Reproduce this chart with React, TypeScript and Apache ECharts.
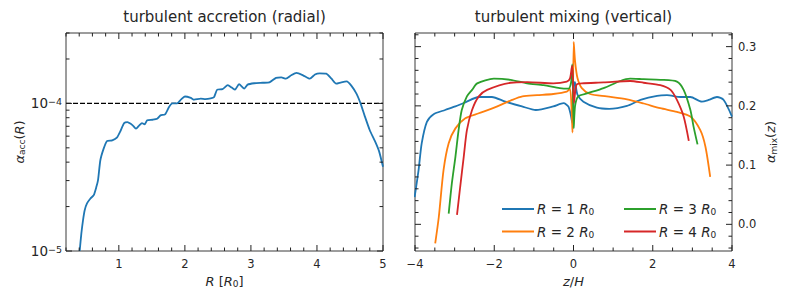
import React, { useEffect, useRef } from 'react';
import * as echarts from 'echarts';

// ---------- data: left panel (turbulent accretion, radial) ----------
const accR = [0.407, 0.433, 0.458, 0.483, 0.518, 0.57, 0.62, 0.66, 0.685, 0.72, 0.77, 0.82, 0.9, 0.97, 1.03, 1.08, 1.13, 1.18, 1.21, 1.26, 1.31, 1.35, 1.39, 1.43, 1.51, 1.58, 1.63, 1.7, 1.76, 1.81, 1.88, 1.94, 2.0, 2.09, 2.14, 2.24, 2.31, 2.39, 2.44, 2.49, 2.57, 2.65, 2.71, 2.76, 2.82, 2.9, 2.95, 3.05, 3.18, 3.28, 3.38, 3.46, 3.53, 3.61, 3.69, 3.79, 3.89, 3.97, 4.04, 4.14, 4.22, 4.29, 4.37, 4.45, 4.52, 4.6, 4.66, 4.72, 4.8, 4.88, 4.94, 5.0];
const accAlpha = [1.0e-5, 1.32e-5, 1.62e-5, 1.89e-5, 2.1e-5, 2.27e-5, 2.39e-5, 2.72e-5, 3.02e-5, 4.12e-5, 4.94e-5, 5.56e-5, 5.62e-5, 5.86e-5, 6.58e-5, 7.36e-5, 7.48e-5, 7.29e-5, 7.1e-5, 6.74e-5, 7.1e-5, 7.36e-5, 7.2e-5, 7.68e-5, 7.75e-5, 7.87e-5, 8.3e-5, 8.43e-5, 9.44e-5, 1.0e-4, 1.0e-4, 1.06e-4, 1.114e-4, 1.09e-4, 1.06e-4, 1.076e-4, 1.07e-4, 1.08e-4, 1.1e-4, 1.24e-4, 1.25e-4, 1.33e-4, 1.28e-4, 1.24e-4, 1.35e-4, 1.26e-4, 1.34e-4, 1.37e-4, 1.38e-4, 1.39e-4, 1.49e-4, 1.5e-4, 1.47e-4, 1.55e-4, 1.61e-4, 1.55e-4, 1.47e-4, 1.57e-4, 1.6e-4, 1.59e-4, 1.47e-4, 1.36e-4, 1.39e-4, 1.41e-4, 1.32e-4, 1.16e-4, 1.0e-4, 8.3e-5, 6.58e-5, 5.53e-5, 4.75e-5, 3.72e-5];
const accReference = 1e-4;

// ---------- data: right panel (turbulent mixing, vertical) ----------
const mixNames = ['R = 1 R0', 'R = 2 R0', 'R = 3 R0', 'R = 4 R0'];
const mixColors = ['#1f77b4', '#ff7f0e', '#2ca02c', '#d62728'];
const z1 = [-4.01, -3.91, -3.83, -3.7, -3.53, -3.24, -2.98, -2.73, -2.39, -2.06, -1.72, -1.3, -0.95, -0.51, -0.25, -0.13, -0.07, -0.035, -0.015, 0.015, 0.035, 0.1, 0.25, 0.59, 0.9, 1.35, 1.69, 2.11, 2.36, 2.7, 2.95, 3.24, 3.41, 3.62, 3.79, 4.0];
const a1 = [0.046, 0.0915, 0.137, 0.173, 0.186, 0.193, 0.199, 0.206, 0.215, 0.215, 0.207, 0.199, 0.193, 0.199, 0.2045, 0.199, 0.185, 0.173, 0.17, 0.238, 0.24, 0.219, 0.207, 0.197, 0.195, 0.2, 0.21, 0.217, 0.218, 0.215, 0.215, 0.207, 0.21, 0.215, 0.21, 0.182];
const z2 = [-3.49, -3.4, -3.28, -3.15, -2.98, -2.73, -2.39, -1.97, -1.55, -1.29, -0.92, -0.51, -0.17, -0.09, -0.045, -0.025, 0.005, 0.04, 0.1, 0.21, 0.42, 0.84, 1.35, 1.77, 2.19, 2.61, 2.95, 3.2, 3.33, 3.45];
const a2 = [-0.032, 0.012, 0.0915, 0.137, 0.162, 0.179, 0.1875, 0.198, 0.21, 0.216, 0.218, 0.22, 0.224, 0.229, 0.19, 0.155, 0.308, 0.275, 0.247, 0.23, 0.22, 0.216, 0.211, 0.204, 0.196, 0.19, 0.182, 0.159, 0.131, 0.08];
const z3 = [-3.15, -3.07, -2.98, -2.9, -2.82, -2.69, -2.56, -2.43, -2.01, -1.59, -1.17, -0.75, -0.35, -0.13, -0.06, -0.03, 0.005, 0.04, 0.12, 0.34, 0.76, 1.18, 1.43, 1.77, 2.19, 2.61, 2.78, 2.95, 3.03, 3.13];
const a3 = [0.018, 0.069, 0.114, 0.159, 0.193, 0.216, 0.227, 0.238, 0.246, 0.244, 0.238, 0.235, 0.23, 0.229, 0.24, 0.27, 0.162, 0.2, 0.216, 0.221, 0.23, 0.242, 0.246, 0.245, 0.244, 0.241, 0.227, 0.193, 0.165, 0.135];
const z4 = [-2.94, -2.86, -2.77, -2.69, -2.56, -2.39, -2.18, -1.59, -1.17, -0.51, -0.17, -0.09, -0.045, -0.03, 0.01, 0.04, 0.08, 0.21, 0.76, 1.43, 1.77, 2.19, 2.45, 2.61, 2.78, 2.91];
const a4 = [0.016, 0.063, 0.114, 0.159, 0.193, 0.216, 0.227, 0.239, 0.24, 0.238, 0.241, 0.246, 0.264, 0.268, 0.205, 0.222, 0.236, 0.238, 0.2395, 0.242, 0.239, 0.235, 0.227, 0.21, 0.182, 0.141];
const mixZ = [z1, z2, z3, z4];
const mixA = [a1, a2, a3, a4];

// ---------- ticks ----------
const leftXMajor = [1, 2, 3, 4, 5];
const leftXMinor = [0.2, 0.4, 0.6, 0.8, 1.2, 1.4, 1.6, 1.8, 2.2, 2.4, 2.6, 2.8, 3.2, 3.4, 3.6, 3.8, 4.2, 4.4, 4.6, 4.8];
const leftYMajor = [1e-5, 1e-4];
const leftYMinor = [2e-5, 3e-5, 4e-5, 5e-5, 6e-5, 7e-5, 8e-5, 9e-5, 2e-4, 3e-4];
const rightXMajor = [-4, -2, 0, 2, 4];
const rightXMinor = [-3.5, -3, -2.5, -1.5, -1, -0.5, 0.5, 1, 1.5, 2.5, 3, 3.5];
const rightYMajor = [0, 0.1, 0.2, 0.3];
const rightYMinor = [-0.04, -0.02, 0.02, 0.04, 0.06, 0.08, 0.12, 0.14, 0.16, 0.18, 0.22, 0.24, 0.26, 0.28, 0.32];

const LX = [0.2, 5];
const LY = [1e-5, 3e-4];
const RX = [-4, 4];
const RY = [-0.045, 0.323];

const FONT = '"DejaVu Sans", sans-serif';
const TXT = '#262626';
const AX = '#3a3a3a';
const TICK = '#222';
const MAJOR = 6;
const MINOR = 3.5;

const rich = {
  i: { fontStyle: 'italic', fontFamily: FONT, fontSize: 13, color: TXT },
  li: { fontStyle: 'italic', fontFamily: FONT, fontSize: 13.5, color: TXT },
  sub: { fontFamily: FONT, fontSize: 9, color: TXT, verticalAlign: 'bottom', padding: [6, 0, 0, 0] },
  sup: { fontFamily: FONT, fontSize: 9.5, color: TXT, verticalAlign: 'top' },
  d: { fontFamily: FONT, fontSize: 13.5, color: TXT },
};

const minus = (s: string) => s.replace('-', '\u2212');

// custom series drawing inward tick marks on two opposite sides of a grid
function xTicks(grid: number, vals: number[], yr: number[], len: number) {
  return {
    type: 'custom',
    xAxisIndex: grid,
    yAxisIndex: grid,
    silent: true,
    clip: false,
    z: 5,
    data: vals.map((v) => [v, yr[0]]),
    renderItem: (_p: any, api: any) => {
      const v = api.value(0);
      const b = api.coord([v, yr[0]]);
      const t = api.coord([v, yr[1]]);
      const st = { stroke: TICK, lineWidth: 1 };
      return {
        type: 'group',
        children: [
          { type: 'line', shape: { x1: b[0], y1: b[1], x2: b[0], y2: b[1] - len }, style: st },
          { type: 'line', shape: { x1: t[0], y1: t[1], x2: t[0], y2: t[1] + len }, style: st },
        ],
      };
    },
  };
}
function yTicks(grid: number, vals: number[], xr: number[], len: number) {
  return {
    type: 'custom',
    xAxisIndex: grid,
    yAxisIndex: grid,
    silent: true,
    clip: false,
    z: 5,
    data: vals.map((v) => [xr[0], v]),
    renderItem: (_p: any, api: any) => {
      const v = api.value(1);
      const l = api.coord([xr[0], v]);
      const r = api.coord([xr[1], v]);
      const st = { stroke: TICK, lineWidth: 1 };
      return {
        type: 'group',
        children: [
          { type: 'line', shape: { x1: l[0], y1: l[1], x2: l[0] + len, y2: l[1] }, style: st },
          { type: 'line', shape: { x1: r[0], y1: r[1], x2: r[0] - len, y2: r[1] }, style: st },
        ],
      };
    },
  };
}

export default function App() {
  const ref = useRef<HTMLDivElement>(null);
  useEffect(() => {
    if (!ref.current) return;
    const chart = echarts.init(ref.current, undefined, { renderer: 'svg' });
    const gridStyle = { show: true, borderColor: AX, borderWidth: 1, backgroundColor: 'transparent' };
    const gridL = { ...gridStyle, left: 66, top: 33, width: 317, height: 218 };
    const gridR = { ...gridStyle, left: 415, top: 33, width: 317, height: 218 };
    const nameStyle = { fontFamily: FONT, fontSize: 13, color: TXT, rich };
    const labelStyle = { fontFamily: FONT, fontSize: 11.5, color: TXT };

    const xAxis: any[] = [
      {
        gridIndex: 0,
        type: 'value',
        position: 'bottom',
        min: LX[0],
        max: LX[1],
        axisLine: { show: false },
        axisTick: { show: false },
        splitLine: { show: false },
        axisLabel: { show: true, customValues: leftXMajor, margin: 7, ...labelStyle },
        name: '{i|R} [{i|R}{sub|0}]',
        nameLocation: 'middle',
        nameGap: 21,
        nameTextStyle: nameStyle,
      },
      {
        gridIndex: 1,
        type: 'value',
        position: 'bottom',
        min: RX[0],
        max: RX[1],
        axisLine: { show: false },
        axisTick: { show: false },
        splitLine: { show: false },
        axisLabel: { show: true, customValues: rightXMajor, margin: 7, ...labelStyle, formatter: (v: number) => minus(String(v)) },
        name: '{i|z}/{i|H}',
        nameLocation: 'middle',
        nameGap: 21,
        nameTextStyle: nameStyle,
      },
    ];

    const yAxis: any[] = [
      {
        gridIndex: 0,
        type: 'log',
        logBase: 10,
        position: 'left',
        min: LY[0],
        max: LY[1],
        axisLine: { show: false },
        axisTick: { show: false },
        splitLine: { show: false },
        axisLabel: {
          show: true,
          margin: 4,
          ...labelStyle,
          rich: { d: rich.d, sup: rich.sup },
          formatter: (v: number) => {
            const e = Math.round(Math.log10(v));
            if (Math.abs(Math.log10(v) - e) > 1e-6) return '';
            return `{d|10}{sup|\u2212${-e}}`;
          },
        },
        name: '{i|\u03b1}{sub|acc}({i|R})',
        nameLocation: 'middle',
        nameRotate: 90,
        nameGap: 36,
        nameTextStyle: nameStyle,
      },
      {
        gridIndex: 1,
        type: 'value',
        position: 'right',
        min: RY[0],
        max: RY[1],
        axisLine: { show: false },
        axisTick: { show: false },
        splitLine: { show: false },
        axisLabel: { show: true, customValues: rightYMajor, margin: 6, ...labelStyle, formatter: (v: number) => v.toFixed(1) },
        name: '{i|\u03b1}{sub|mix}({i|z})',
        nameLocation: 'middle',
        nameRotate: 90,
        nameGap: 31,
        nameTextStyle: nameStyle,
      },
    ];

    const series: any[] = [
      xTicks(0, leftXMajor, LY, MAJOR),
      xTicks(0, leftXMinor, LY, MINOR),
      yTicks(0, leftYMajor, LX, MAJOR),
      yTicks(0, leftYMinor, LX, MINOR),
      xTicks(1, rightXMajor, RY, MAJOR),
      xTicks(1, rightXMinor, RY, MINOR),
      yTicks(1, rightYMajor, RX, MAJOR),
      yTicks(1, rightYMinor, RX, MINOR),
      {
        type: 'line',
        name: 'reference',
        xAxisIndex: 0,
        yAxisIndex: 0,
        data: [[LX[0], accReference], [LX[1], accReference]],
        symbol: 'none',
        silent: true,
        lineStyle: { color: '#000', type: [5, 2], width: 1.3 },
        z: 2,
      },
      {
        type: 'line',
        name: 'acc',
        xAxisIndex: 0,
        yAxisIndex: 0,
        data: accR.map((r, i) => [r, accAlpha[i]]),
        symbol: 'none',
        smooth: 0.2,
        lineStyle: { color: '#1f77b4', width: 1.8 },
        z: 3,
      },
      ...mixNames.map((name, k) => ({
        type: 'line',
        name,
        xAxisIndex: 1,
        yAxisIndex: 1,
        data: mixZ[k].map((zz, i) => [zz, mixA[k][i]]),
        symbol: 'none',
        smooth: 0.25,
        color: mixColors[k],
        lineStyle: { color: mixColors[k], width: 1.8 },
        z: 3,
      })),
    ];

    const legendText = (name: string) => {
      const n = name.split(' ')[2];
      return `{li|R} = ${n} {li|R}{sub|0}`;
    };
    const legendBase = {
      orient: 'vertical',
      top: 202,
      padding: 0,
      icon: 'rect',
      itemWidth: 32,
      itemHeight: 2,
      itemGap: 8,
      formatter: legendText,
      textStyle: { fontFamily: FONT, fontSize: 13.5, color: TXT, rich, padding: [0, 0, 0, -2] },
      selectedMode: false,
    };

    chart.setOption({
      animation: false,
      backgroundColor: '#fff',
      grid: [gridL, gridR],
      xAxis,
      yAxis,
      series,
      legend: [
        { ...legendBase, left: 502, data: [mixNames[0], mixNames[1]] },
        { ...legendBase, left: 624, data: [mixNames[2], mixNames[3]] },
      ],
      graphic: [
        { type: 'text', x: 224.5, y: 17, style: { text: 'turbulent accretion (radial)', fontFamily: FONT, fontSize: 15, fill: TXT, align: 'center', verticalAlign: 'middle' } },
        { type: 'text', x: 573.5, y: 17, style: { text: 'turbulent mixing (vertical)', fontFamily: FONT, fontSize: 15, fill: TXT, align: 'center', verticalAlign: 'middle' } },
      ],
    });
    return () => chart.dispose();
  }, []);
  return <div ref={ref} style={{ position: 'absolute', left: 0, top: 0, width: 788, height: 301 }} />;
}
